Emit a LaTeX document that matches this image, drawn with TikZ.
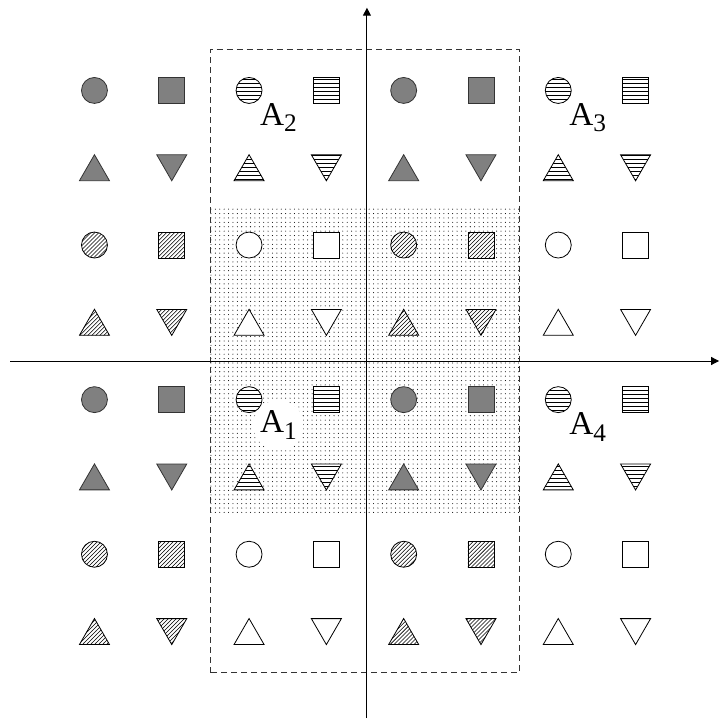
\documentclass[tikz,border=0pt]{standalone}
\usepackage{fontspec}
\setmainfont{Liberation Serif}
\usepackage{tikz}
\usetikzlibrary{arrows.meta,shapes.geometric,patterns,calc}
\definecolor{shade}{HTML}{808080}
\definecolor{rim}{HTML}{333333}
\newcommand{\lowidx}[1]{\raisebox{-5pt}{\fontsize{19}{19}\selectfont #1}}
% sparse dot raster for the middle band
\pgfdeclarepatternformonly{sparsedots}{\pgfqpoint{-1pt}{-1pt}}{\pgfqpoint{1pt}{1pt}}{\pgfqpoint{3.3pt}{3.3pt}}%
  {\pgfpathcircle{\pgfpointorigin}{0.4pt}\pgfusepath{fill}}

\begin{document}
\begin{tikzpicture}[x=2.04cm,y=2.04cm,
  sym/.style={draw=black,line width=0.6pt,inner sep=0pt,outer sep=0pt},
  disc/.style={sym,circle,minimum size=19.5pt},
  sq/.style={sym,rectangle,minimum size=19.5pt},
  uptri/.style={sym,regular polygon,regular polygon sides=3,minimum size=26pt,yshift=-3.2pt},
  dntri/.style={sym,regular polygon,regular polygon sides=3,shape border rotate=180,minimum size=26pt,yshift=3.2pt},
  kind0/.style={fill=shade,draw=rim},
  kind1/.style={preaction={fill=white},pattern=horizontal lines},
  kind2/.style={preaction={fill=white},pattern=north east lines},
  kind3/.style={fill=white},
  axis/.style={line width=0.7pt,-{Triangle[length=6pt,width=6pt]}},
  lab/.style={circle,fill=white,inner sep=1pt,font=\fontsize{25}{25}\selectfont}]
  \useasboundingbox (-4.722,-4.631) rectangle (4.592,4.670);
  % dotted middle band
  \fill[pattern=sparsedots] (-2,-2) rectangle (2,2);
  \draw[black!80,line width=0.7pt,dash pattern=on 4.5pt off 3pt] (-2,-4.03) rectangle (2,4.03);
  % axes
  \coordinate (xl) at (-4.59,0);
  \coordinate (xr) at (4.58,0);
  \coordinate (yb) at (0.025,-4.62);
  \coordinate (yt) at (0.025,4.57);
  \draw[axis] (xl) -- (xr);
  \draw[axis] (yb) -- (yt);
  % 4x4 blocks of symbols
  \foreach \r in {0,...,3} {
    \foreach \c in {0,...,3} {
      \pgfmathtruncatemacro\kind{2*mod(\r,2)+mod(\c,2)}
      \pgfmathsetmacro\xl{-3.5+2*\c}
      \pgfmathsetmacro\yt{3.5-2*\r}
      \node[disc,kind\kind] (c-\r-\c) at (\xl,\yt) {};
      \node[sq,kind\kind] (s-\r-\c) at (\xl+1,\yt) {};
      \node[uptri,kind\kind] (u-\r-\c) at (\xl,\yt-1) {};
      \node[dntri,kind\kind] (d-\r-\c) at (\xl+1,\yt-1) {};
    }
  }
  % region labels
  \node[lab] (a2) at ($(c-0-1)+(0.38,-0.35)$) {A\lowidx{2}};
  \node[lab] (a3) at ($(c-0-3)+(0.38,-0.35)$) {A\lowidx{3}};
  \node[lab] (a1) at ($(c-2-1)+(0.38,-0.33)$) {A\lowidx{1}};
  \node[lab] (a4) at ($(c-2-3)+(0.38,-0.35)$) {A\lowidx{4}};
\end{tikzpicture}
\end{document}
